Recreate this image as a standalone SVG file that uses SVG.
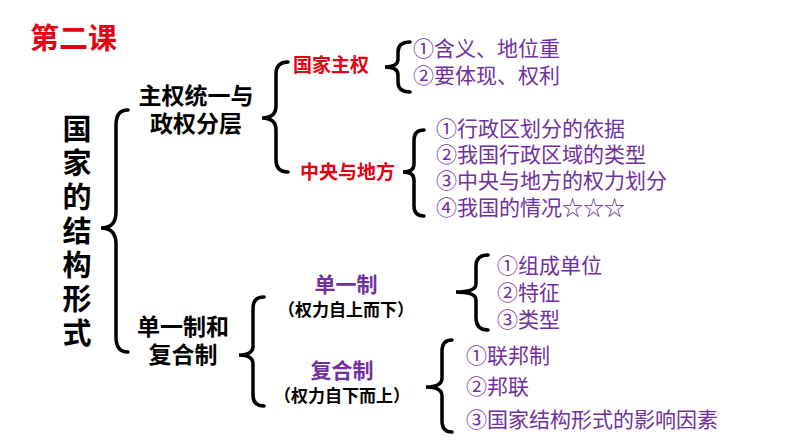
<svg xmlns="http://www.w3.org/2000/svg" width="794" height="447" viewBox="0 0 794 447">
<style>
.b{font-family:"Noto Sans CJK SC",sans-serif;font-weight:bold;fill:#000}
.r{fill:#e60012}
.p{fill:#7030a0}
.i{font-family:"Noto Sans CJK SC",sans-serif;font-size:21px;fill:#7030a0}
.br{fill:none;stroke:#000;stroke-width:3.5;stroke-linecap:round}
</style>
<rect width="794" height="447" fill="#fff"/>
<g id="connectors">
<path class="br" d="M128 110 Q116 110 116 125 L116 212 Q116 228 101 228 Q116 228 116 244 L116 337 Q116 352 128 352"/>
<path class="br" d="M288 62 Q276 62 276 74 L276 106 Q276 118 262 118 Q276 118 276 130 L276 160 Q276 172 288 172"/>
<path class="br" d="M410 42 Q398 42 398 52 L398 59 Q398 67 385 67 Q398 67 398 75 L398 82 Q398 92 410 92"/>
<path class="br" d="M424 130 Q414 130 414 140 L414 164 Q414 172 403 172 Q414 172 414 180 L414 206 Q414 216 424 216"/>
<path class="br" d="M264 297 Q253 297 253 308 L253 346 Q253 355 239 355 Q253 355 253 364 L253 395 Q253 406 264 406"/>
<path class="br" d="M488 255 Q476 255 476 266 L476 284 Q476 292 456 292 Q476 292 476 300 L476 318 Q476 330 488 330"/>
<path class="br" d="M452 340 Q442 340 442 351 L442 378 Q442 387 426 387 Q442 387 442 396 L442 421 Q442 432 452 432"/>
</g>
<g id="title"><text class="b r" x="30" y="49" font-size="29">第二课</text></g>
<g id="root" class="b" font-size="29" text-anchor="middle">
<text x="77" y="140">国</text><text x="77" y="174">家</text><text x="77" y="208">的</text><text x="77" y="242">结</text><text x="77" y="276">构</text><text x="77" y="310">形</text><text x="77" y="344">式</text>
</g>
<g id="n1" class="b" font-size="23" text-anchor="middle"><text x="196" y="104">主权统一与</text><text x="196" y="132">政权分层</text></g>
<g id="n2"><text class="b r" x="293" y="72" font-size="19">国家主权</text></g>
<g id="n3"><text class="b r" x="300" y="179" font-size="19">中央与地方</text></g>
<g id="l1" class="i"><text x="413" y="56">①含义、地位重</text><text x="413" y="83">②要体现、权利</text></g>
<g id="l2" class="i"><text x="436" y="136">①行政区划分的依据</text><text x="436" y="162">②我国行政区域的类型</text><text x="436" y="188">③中央与地方的权力划分</text><text x="436" y="215">④我国的情况☆☆☆</text></g>
<g id="n4" class="b" font-size="23" text-anchor="middle"><text x="183" y="335">单一制和</text><text x="183" y="363">复合制</text></g>
<g id="n5" class="b" text-anchor="middle"><text class="p" x="346" y="292" font-size="21">单一制</text><text x="346" y="316" font-size="17">（权力自上而下）</text></g>
<g id="n6" class="b" text-anchor="middle"><text class="p" x="342" y="378" font-size="21">复合制</text><text x="342" y="402" font-size="17">（权力自下而上）</text></g>
<g id="l3" class="i"><text x="497" y="273">①组成单位</text><text x="497" y="300">②特征</text><text x="497" y="327">③类型</text></g>
<g id="l4" class="i"><text x="466" y="363">①联邦制</text><text x="466" y="394">②邦联</text><text x="466" y="427">③国家结构形式的影响因素</text></g>
</svg>
